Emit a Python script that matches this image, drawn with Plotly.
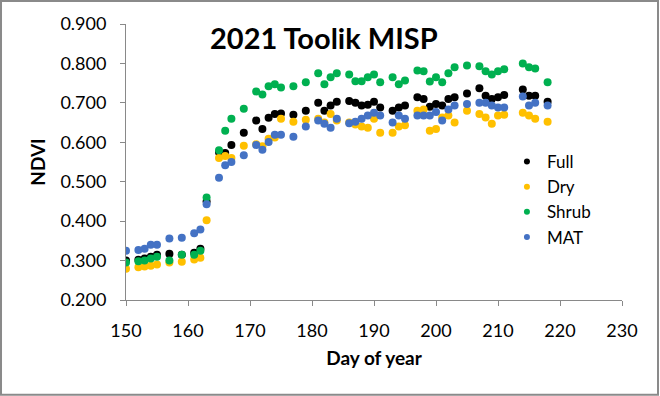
import plotly.graph_objects as go

# ---------------------------------------------------------------------------
# DATA
# ---------------------------------------------------------------------------
DAYS = [150, 152, 153, 154, 155, 157, 159, 161, 162, 163, 165, 166, 167, 169,
        171, 172, 173, 174, 175, 177, 179, 181, 182, 183, 184, 186, 187, 188,
        189, 190, 191, 193, 194, 195, 197, 198, 199, 200, 201, 202, 203, 205,
        207, 208, 209, 210, 211, 214, 215, 216, 218]

FULL = [0.300, 0.302, 0.305, 0.310, 0.315, 0.317, 0.315, 0.320, 0.330, 0.450,
        0.575, 0.573, 0.593, 0.624, 0.655, 0.634, 0.662, 0.672, 0.673, 0.670,
        0.680, 0.700, 0.680, 0.693, 0.703, 0.705, 0.700, 0.693, 0.695, 0.703,
        0.688, 0.680, 0.688, 0.693, 0.714, 0.710, 0.690, 0.697, 0.693, 0.710,
        0.714, 0.724, 0.737, 0.718, 0.710, 0.714, 0.720, 0.734, 0.718, 0.718,
        0.703]

DRY = [0.279, 0.283, 0.285, 0.287, 0.290, 0.295, 0.297, 0.303, 0.307, 0.402,
       0.560, 0.565, 0.560, 0.591, 0.595, 0.590, 0.609, 0.612, 0.660, 0.652,
       0.657, 0.660, 0.650, 0.672, 0.655, 0.650, 0.645, 0.640, 0.637, 0.660,
       0.624, 0.624, 0.640, 0.643, 0.680, 0.683, 0.629, 0.634, 0.663, 0.668,
       0.650, 0.680, 0.672, 0.663, 0.647, 0.668, 0.670, 0.675, 0.668, 0.660,
       0.652]

SHRUB = [0.295, 0.298, 0.300, 0.305, 0.310, 0.300, 0.315, 0.315, 0.325, 0.460,
         0.580, 0.629, 0.660, 0.685, 0.729, 0.721, 0.742, 0.747, 0.739, 0.742,
         0.752, 0.775, 0.747, 0.765, 0.775, 0.772, 0.755, 0.755, 0.765, 0.772,
         0.752, 0.765, 0.747, 0.757, 0.782, 0.780, 0.754, 0.765, 0.752, 0.775,
         0.790, 0.795, 0.793, 0.780, 0.772, 0.780, 0.785, 0.800, 0.790, 0.787,
         0.752]

MAT = [0.325, 0.327, 0.330, 0.340, 0.340, 0.356, 0.358, 0.369, 0.379, 0.443,
       0.510, 0.542, 0.550, 0.567, 0.593, 0.581, 0.601, 0.619, 0.619, 0.614,
       0.640, 0.655, 0.647, 0.637, 0.660, 0.648, 0.652, 0.660, 0.668, 0.675,
       0.668, 0.650, 0.668, 0.660, 0.668, 0.668, 0.668, 0.677, 0.655, 0.683,
       0.693, 0.697, 0.700, 0.700, 0.693, 0.688, 0.688, 0.716, 0.693, 0.700,
       0.693]

SERIES = [("Full", FULL, "#000000"),
          ("Dry", DRY, "#ffc000"),
          ("Shrub", SHRUB, "#00b050"),
          ("MAT", MAT, "#4472c4")]

FONT = "Lato, 'Open Sans', sans-serif"

fig = go.Figure()

# data points (drawn in order so MAT sits on top like the original)
for name, vals, color in SERIES:
    fig.add_trace(go.Scatter(
        x=DAYS, y=vals, mode="markers", name=name,
        marker=dict(color=color, size=8),
        showlegend=False,
    ))

# small legend markers
for name, vals, color in SERIES:
    fig.add_trace(go.Scatter(
        x=[None], y=[None], mode="markers", name=name,
        marker=dict(color=color, size=6),
    ))

axis_style = dict(
    showline=True, linecolor="#898989", linewidth=1,
    ticks="outside", tickcolor="#898989", ticklen=5,
    showgrid=False, zeroline=False,
    tickfont=dict(family=FONT, size=18, color="#000000"),
)

fig.update_layout(
    width=660, height=396,
    margin=dict(l=126, r=38, t=24, b=96),
    paper_bgcolor="white", plot_bgcolor="white",
    font=dict(family=FONT, color="#000000"),
    xaxis=dict(
        range=[150, 230], tickvals=list(range(150, 231, 10)),
        ticklabelstandoff=9,
        title=dict(text="<b>Day of year</b>", font=dict(family=FONT, size=19), standoff=12),
        **axis_style,
    ),
    yaxis=dict(
        range=[0.2, 0.9], tickvals=[0.2, 0.3, 0.4, 0.5, 0.6, 0.7, 0.8, 0.9],
        tickformat=".3f", ticklabelstandoff=10,
        title=dict(text="<b>NDVI</b>", font=dict(family=FONT, size=19), standoff=9),
        **axis_style,
    ),
    legend=dict(
        x=0.768, y=0.565, xanchor="left", yanchor="top",
        font=dict(family=FONT, size=17), itemwidth=30,
        bgcolor="rgba(0,0,0,0)",
    ),
    annotations=[dict(
        text="<b>2021 Toolik MISP</b>", x=0.4, y=1.02, xref="paper", yref="paper",
        xanchor="center", yanchor="top", showarrow=False,
        font=dict(family=FONT, size=29, color="#000000"),
    )],
    shapes=[dict(
        type="rect", xref="paper", yref="paper",
        x0=-0.252, x1=1.0726, y0=-0.3435, y1=1.0836,
        line=dict(color="#8a8a8a", width=2),
    )],
)

fig.write_html("out.html", config={"displayModeBar": False},
               post_script="document.body.style.margin='0';")
